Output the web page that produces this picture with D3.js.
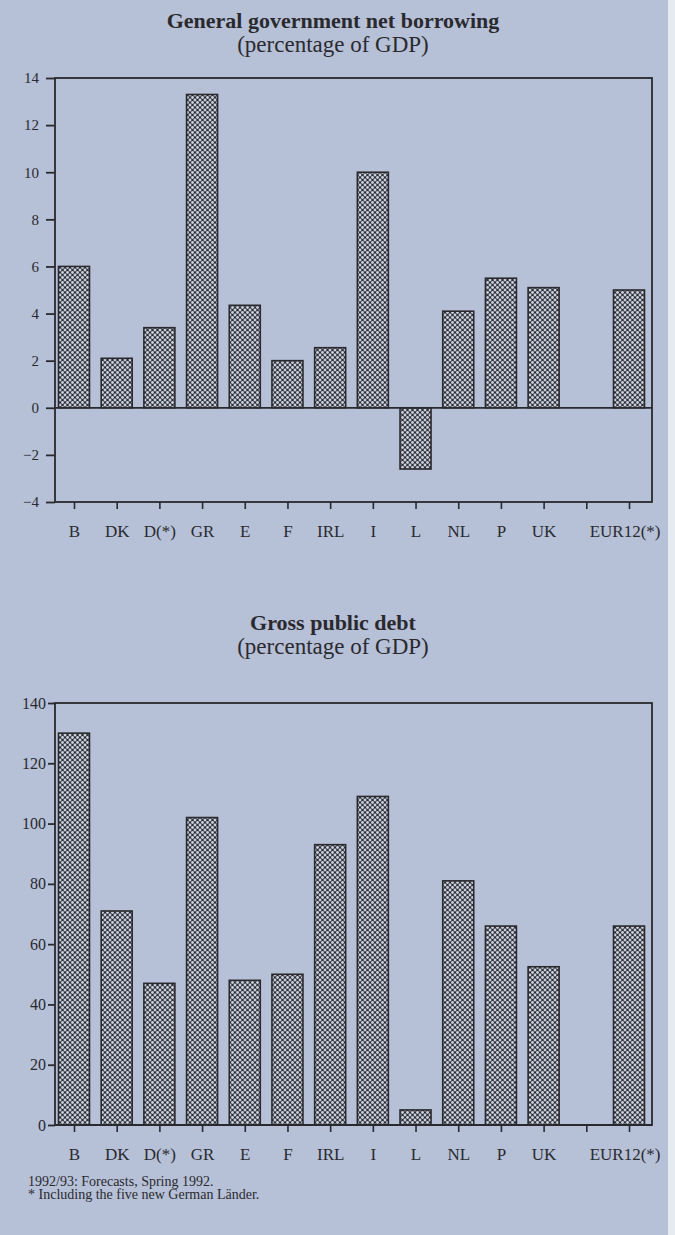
<!DOCTYPE html>
<html>
<head>
<meta charset="utf-8">
<script src="https://cdn.jsdelivr.net/npm/d3@7"></script>
<style>
  html, body { margin: 0; padding: 0; background: #b6c0d7; }
  svg { display: block; }
  text { font-family: "Liberation Serif", "Times New Roman", serif; fill: #2a2a2e; }
</style>
</head>
<body>
<script>
// ---- data ----
const categories = ["B", "DK", "D(*)", "GR", "E", "F", "IRL", "I", "L", "NL", "P", "UK", "", "EUR12(*)"];
const borrowing = [6.0, 2.1, 3.4, 13.3, 4.35, 2.0, 2.55, 10.0, -2.6, 4.1, 5.5, 5.1, null, 5.0];
const debt = [130, 71, 47, 102, 48, 50, 93, 109, 5, 81, 66, 52.5, null, 66];
const borrowingTicks = [-4, -2, 0, 2, 4, 6, 8, 10, 12, 14];
const debtTicks = [0, 20, 40, 60, 80, 100, 120, 140];
const titles = [
  ["General government net borrowing", "(percentage of GDP)"],
  ["Gross public debt", "(percentage of GDP)"]
];
const footnotes = ["1992/93: Forecasts, Spring 1992.", "* Including the five new German Länder."];

const W = 675, H = 1235;
const ink = "#2a2a2e";
const bg = "#b6c0d7";

const svg = d3.select("body").append("svg").attr("width", W).attr("height", H);
svg.append("rect").attr("width", W).attr("height", H).attr("fill", bg);
svg.append("rect").attr("x", 668).attr("width", 7).attr("height", H).attr("fill", "#e6eaf1");

// crosshatch pattern
const defs = svg.append("defs");
const pat = defs.append("pattern").attr("id", "hatch").attr("patternUnits", "userSpaceOnUse")
  .attr("width", 5).attr("height", 5);
pat.append("rect").attr("width", 5).attr("height", 5).attr("fill", "#2e2e33");
[[0, 0], [5, 0], [0, 5], [5, 5], [2.5, 2.5]].forEach(([cx, cy]) =>
  pat.append("circle").attr("cx", cx).attr("cy", cy).attr("r", 1.45).attr("fill", "#c9d0e0"));

const left = 55, right = 652;
const x = d3.scalePoint().domain(categories).range([74, 629]);
const barW = 31;

function drawChart(cfg) {
  const g = svg.append("g");
  const y = d3.scaleLinear().domain(cfg.domain).range([cfg.bottom, cfg.top]);

  // titles
  g.append("text").attr("x", 333).attr("y", cfg.titleY).attr("text-anchor", "middle")
    .attr("font-size", 22).attr("font-weight", "bold").text(cfg.title[0]);
  g.append("text").attr("x", 333).attr("y", cfg.titleY + 24).attr("text-anchor", "middle")
    .attr("font-size", 23).text(cfg.title[1]);

  // bars
  g.selectAll("rect.bar").data(categories.map((c, i) => ({ c, v: cfg.values[i] })).filter(d => d.v != null))
    .join("rect").attr("class", "bar")
    .attr("x", d => x(d.c) - barW / 2)
    .attr("width", barW)
    .attr("y", d => y(Math.max(0, d.v)))
    .attr("height", d => Math.abs(y(d.v) - y(0)))
    .attr("fill", "url(#hatch)")
    .attr("stroke", ink).attr("stroke-width", 1.6);

  // frame
  g.append("rect").attr("x", left).attr("y", cfg.top).attr("width", right - left)
    .attr("height", cfg.bottom - cfg.top).attr("fill", "none").attr("stroke", ink).attr("stroke-width", 1.8);
  // zero line
  g.append("line").attr("x1", left).attr("x2", right).attr("y1", y(0)).attr("y2", y(0))
    .attr("stroke", ink).attr("stroke-width", 1.8);

  // y axis
  const ya = g.append("g").attr("transform", `translate(${left},0)`)
    .call(d3.axisLeft(y).tickValues(cfg.ticks).tickSize(cfg.tickLen).tickPadding(cfg.tickPad));
  ya.select(".domain").remove();
  ya.selectAll("line").attr("stroke", ink).attr("stroke-width", 1.8);
  ya.selectAll("text").attr("font-size", cfg.yFont).attr("fill", ink)
    .style("font-family", '"Liberation Serif", "Times New Roman", serif');

  // x axis
  const xa = g.append("g").attr("transform", `translate(0,${cfg.bottom})`)
    .call(d3.axisBottom(x).tickSize(7).tickPadding(16));
  xa.select(".domain").remove();
  xa.selectAll("line").attr("stroke", ink).attr("stroke-width", 1.6);
  xa.selectAll("text").attr("font-size", 17).attr("fill", ink)
    .style("font-family", '"Liberation Serif", "Times New Roman", serif')
    .filter(d => d === "EUR12(*)").attr("text-anchor", "end").attr("dx", 31);
}

drawChart({ domain: [-4, 14], top: 78, bottom: 502, values: borrowing, ticks: borrowingTicks,
  title: titles[0], titleY: 28, tickLen: 9, tickPad: 7, yFont: 15 });
drawChart({ domain: [0, 140], top: 703, bottom: 1125, values: debt, ticks: debtTicks,
  title: titles[1], titleY: 630, tickLen: 7, tickPad: 2, yFont: 16 });

svg.selectAll("text.fn").data(footnotes).join("text").attr("class", "fn")
  .attr("x", 28).attr("y", (d, i) => 1186 + i * 13).attr("font-size", 14).text(d => d);
</script>
</body>
</html>
